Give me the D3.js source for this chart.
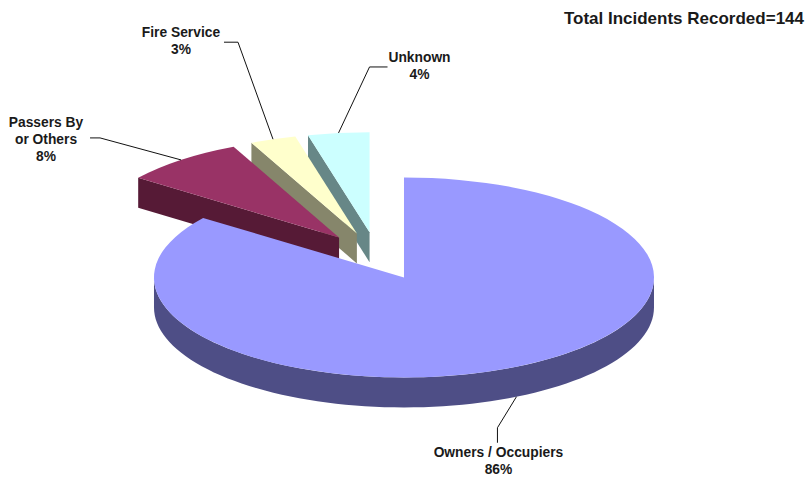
<!DOCTYPE html>
<html><head><meta charset="utf-8">
<script src="https://cdn.jsdelivr.net/npm/d3@7"></script>
<style>body{margin:0;background:#fff} svg{display:block}</style>
</head><body>
<svg id="chart" width="808" height="479"></svg>
<script>
// ---- data ----
const categories = ["Owners / Occupiers", "Passers By or Others", "Fire Service", "Unknown"];
const labelLines = [["Owners / Occupiers"], ["Passers By", "or Others"], ["Fire Service"], ["Unknown"]];
const values = [86, 8, 3, 4];   // percent
const title = "Total Incidents Recorded=144";

// ---- style / layout ----
const topColors = ["#9999FF", "#993366", "#FFFFCC", "#CCFFFF"];
const sideColors = ["#4E4E86", "#561A36", "#86866B", "#678787"];
const W = 808, H = 479;
const rx = 250, tilt = 0.4, ry = rx * tilt, depth = 30, explode = 60;
const cx0 = 377, cy0 = 256;
// leader / label placement relative to the slice anchor
const labelLayout = [
  {elbow: [-19, 31], end: [-19, 46], text: [1, 14]},
  {elbow: [-81, -22], end: [-91, -22], text: [-44, -11]},
  {elbow: [-35, -97], end: [-49, -97], text: [-43, -5]},
  {elbow: [31, -66], end: [49, -66], text: [32, -5]}
];
const lineH = 17;

const svg = d3.select("#chart");
const font = "'Liberation Sans', Arial, sans-serif";

const arcs = d3.pie().sort(null).value(d => d)(values);
const arcGen = d3.arc().innerRadius(0).outerRadius(rx);

const slices = arcs.map((a, i) => {
  const mid = (a.startAngle + a.endAngle) / 2;
  const cx = cx0 + explode * Math.sin(mid);
  const cy = cy0 - explode * Math.cos(mid) * tilt;
  return {a, i, mid, cx, cy};
});

const P = (s, t, dz = 0) => [s.cx + rx * Math.sin(t), s.cy - ry * Math.cos(t) + dz];
const line = d3.line();

const drawOrder = slices.slice().sort((p, q) => p.cy - q.cy);
const gPie = svg.append("g");
drawOrder.forEach(s => {
  const g = gPie.append("g");
  const s0 = s.a.startAngle, s1 = s.a.endAngle;
  const C = [s.cx, s.cy], Cd = [s.cx, s.cy + depth];
  if (Math.sin(s0) < -1e-6) {
    const p = P(s, s0), pd = P(s, s0, depth);
    g.append("path").attr("d", line([C, p, pd, Cd]) + "Z").attr("fill", sideColors[s.i]);
  }
  if (Math.sin(s1) > 1e-6) {
    const p = P(s, s1), pd = P(s, s1, depth);
    g.append("path").attr("d", line([C, p, pd, Cd]) + "Z").attr("fill", sideColors[s.i]);
  }
  const t0 = Math.max(s0, Math.PI / 2), t1 = Math.min(s1, 3 * Math.PI / 2);
  if (t1 > t0) {
    const n = 80;
    const ts = d3.range(n + 1).map(k => t0 + (t1 - t0) * k / n);
    const pts = ts.map(t => P(s, t)).concat(ts.slice().reverse().map(t => P(s, t, depth)));
    g.append("path").attr("d", line(pts) + "Z").attr("fill", sideColors[s.i]);
  }
  g.append("path")
    .attr("d", arcGen(s.a))
    .attr("transform", `translate(${s.cx},${s.cy}) scale(1,${tilt})`)
    .attr("fill", topColors[s.i]);
});

// leaders + labels
const gLab = svg.append("g");
slices.forEach(s => {
  const front = Math.cos(s.mid) < 0;
  const anchor = P(s, s.mid, front ? depth : 0);
  const L = labelLayout[s.i];
  const elbow = [anchor[0] + L.elbow[0], anchor[1] + L.elbow[1]];
  const end = [anchor[0] + L.end[0], anchor[1] + L.end[1]];
  gLab.append("path").attr("d", line([anchor, elbow, end]))
    .attr("fill", "none").attr("stroke", "#111").attr("stroke-width", 1);
  const lines = labelLines[s.i].concat([values[s.i] + "%"]);
  const t = gLab.append("text")
    .attr("x", end[0] + L.text[0]).attr("y", end[1] + L.text[1])
    .attr("text-anchor", "middle")
    .attr("font-family", font).attr("font-weight", "bold").attr("font-size", 13.8)
    .attr("fill", "#1a1a1a");
  lines.forEach((ln, k) => {
    t.append("tspan").attr("x", end[0] + L.text[0]).attr("dy", k === 0 ? 0 : lineH).text(ln);
  });
});

svg.append("text").attr("x", 804).attr("y", 24).attr("text-anchor", "end")
  .attr("font-family", font).attr("font-weight", "bold").attr("font-size", 17)
  .attr("fill", "#1a1a1a").text(title);
</script>
</body></html>
